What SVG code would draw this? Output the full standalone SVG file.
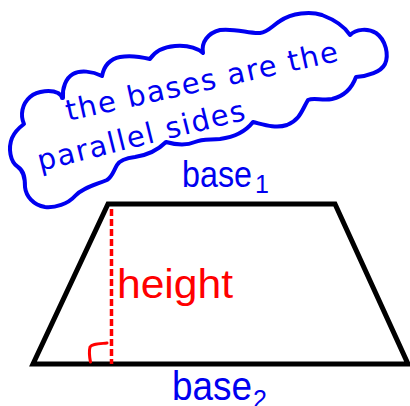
<svg xmlns="http://www.w3.org/2000/svg" width="410" height="406" viewBox="0 0 410 406">
<style>
.blue{fill:#0000f0;font-family:"DejaVu Sans","Liberation Sans",sans-serif}
.hand{font-size:29px}
.lbl{font-family:"Liberation Sans","DejaVu Sans",sans-serif}
</style>
<rect width="410" height="406" fill="#ffffff"/>
<g id="cloud">
<path d="M63,98 C62,88 66,78 73,74 C80,70 92,71 102,76 C104,66 110,59 120,57 C130,55 142,57 150,59 C155,51 163,47 175,46 C188,45 197,48 203,53 C201,42 208,33 220,30 C235,28 250,34 260,33 C268,32 272,26 280,21 C292,13 310,11 322,15 C335,20 345,27 350,35 C356,29 368,28 376,33 C386,40 389,55 385,64 C381,72 368,76 356,77 C352,88 345,96 332,99 C322,101 314,97 308,100 C302,110 300,120 287,125 C275,129 262,124 253,122 C246,131 235,137 220,139 C210,140 202,139 195,142 C188,145 180,146 166,142 C158,150 148,155 135,157 C127,158 120,160 117,165 C113,172 112,177 107,180 C95,185 82,188 75,196 C68,204 55,208 45,207 C33,205 26,196 25,187 C25,178 24,171 18,167 C10,162 8,148 12,138 C15,131 20,127 24,124 C20,115 22,104 30,97 C38,90 52,90 58,93 C61,95 62,97 62,98" fill="none" stroke="#0000f0" stroke-width="4" stroke-linecap="round" stroke-linejoin="round"/>
<text class="blue hand" x="68" y="121" textLength="278" lengthAdjust="spacing" transform="rotate(-12.5 68 121)">the bases are the</text>
<text class="blue hand" x="40" y="171" textLength="213" lengthAdjust="spacing" transform="rotate(-14 40 171)">parallel sides</text>
</g>
<g id="trapezoid">
<polygon points="108,204 335,204 408,364 33,364" fill="none" stroke="#000000" stroke-width="5" stroke-linejoin="miter"/>
</g>
<g id="connectors">
<line x1="111.5" y1="209" x2="111.5" y2="364" stroke="#ff0000" stroke-width="3.5" stroke-dasharray="7,3"/>
<path d="M90.5,362 C89.5,357 89,351 90,347 C92,344 97,344 107,343" fill="none" stroke="#ff0000" stroke-width="3" stroke-linecap="round"/>
</g>
<g id="base1">
<text class="blue lbl" x="182" y="187" font-size="37" textLength="70" lengthAdjust="spacingAndGlyphs">base</text>
<text class="blue lbl" x="255" y="193" font-size="25">1</text>
</g>
<g id="base2">
<text class="blue lbl" x="172" y="400" font-size="40" textLength="80" lengthAdjust="spacingAndGlyphs">base</text>
<text class="blue lbl" x="253" y="408" font-size="25">2</text>
</g>
<g id="height">
<text class="lbl" x="117" y="298" font-size="40" fill="#ff0000" textLength="116" lengthAdjust="spacingAndGlyphs">height</text>
</g>
</svg>
